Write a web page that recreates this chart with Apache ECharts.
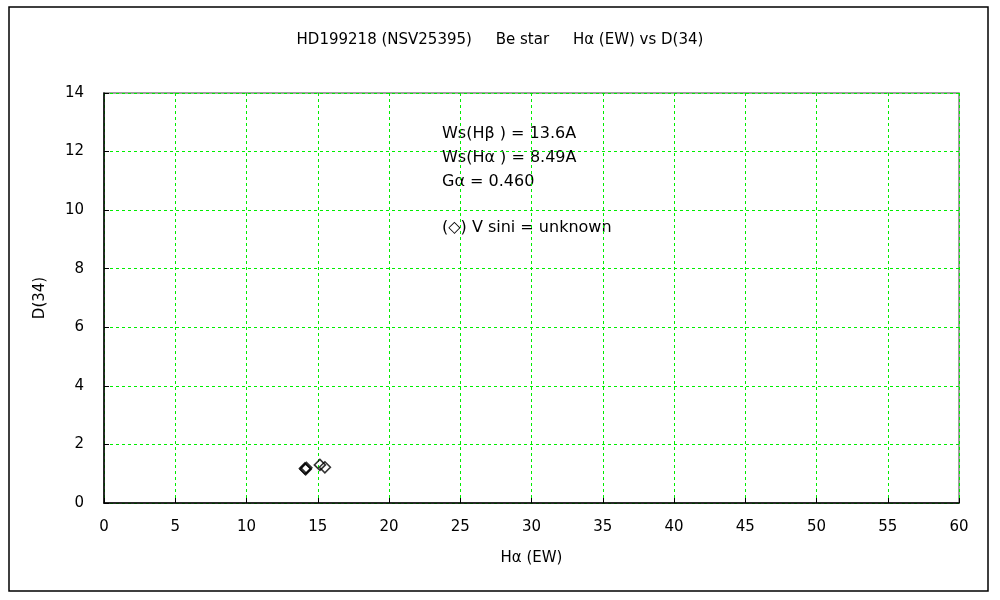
<!DOCTYPE html>
<html><head><meta charset="utf-8">
<script src="https://cdn.jsdelivr.net/npm/echarts@6/dist/echarts.min.js"></script>
<style>html,body{margin:0;padding:0;background:#fff}#c{width:1000px;height:600px}</style>
</head><body><div id="c"></div>
<script>
const titleText = 'HD199218 (NSV25395)     Be star     Hα (EW) vs D(34)';
const xName = 'Hα (EW)';
const yName = 'D(34)';
const haEW = [14.1, 14.15, 14.2, 15.15, 15.5];
const d34 = [1.18, 1.15, 1.2, 1.3, 1.22];
const notes = ['Ws(Hβ ) = 13.6A', 'Ws(Hα ) = 8.49A', 'Gα = 0.460', '(◇) V sini = unknown'];

const chart = echarts.init(document.getElementById('c'));
const F = 'DejaVu Sans, sans-serif';
const gridLine = {show: true, lineStyle: {color: '#00ee00', type: [3, 3], width: 1}};
chart.setOption({
  animation: false,
  backgroundColor: '#fff',
  title: {text: titleText, left: 'center', top: 28, textStyle: {fontFamily: F, fontSize: 15, fontWeight: 'normal', color: '#000'}},
  grid: {left: 104, right: 41, top: 93, bottom: 97, show: true, borderColor: '#808080', borderWidth: 1.5},
  xAxis: {type: 'value', min: 0, max: 60, interval: 5, name: xName, nameLocation: 'middle', nameGap: 48,
    nameTextStyle: {fontFamily: F, fontSize: 15, color: '#000'},
    axisLine: {show: true, lineStyle: {color: '#000', width: 1.5}},
    axisTick: {show: true, inside: true, length: 5, lineStyle: {color: '#000'}},
    axisLabel: {fontFamily: F, fontSize: 15, color: '#000', margin: 17},
    splitLine: gridLine},
  yAxis: {type: 'value', min: 0, max: 14, interval: 2, name: yName, nameLocation: 'middle', nameGap: 56,
    nameTextStyle: {fontFamily: F, fontSize: 15, color: '#000'},
    axisLine: {show: true, lineStyle: {color: '#000', width: 1.5}},
    axisTick: {show: true, inside: true, length: 5, lineStyle: {color: '#000'}},
    axisLabel: {fontFamily: F, fontSize: 15, color: '#000', margin: 20},
    splitLine: gridLine},
  series: [{type: 'scatter', data: haEW.map((x, i) => [x, d34[i]]), symbol: 'diamond', symbolSize: 11,
    itemStyle: {color: 'rgba(0,0,0,0)', borderColor: '#000', borderWidth: 1.6}}],
  graphic: [
    {type: 'rect', shape: {x: 9, y: 7, width: 979, height: 584}, style: {fill: 'none', stroke: '#000', lineWidth: 1.5}, silent: true},
    ...notes.map((t, i) => ({type: 'text', left: 442, top: [126, 150, 174, 220][i], style: {text: t, fontFamily: F, fontSize: 16, fill: '#000'}}))
  ]
});
</script></body></html>
